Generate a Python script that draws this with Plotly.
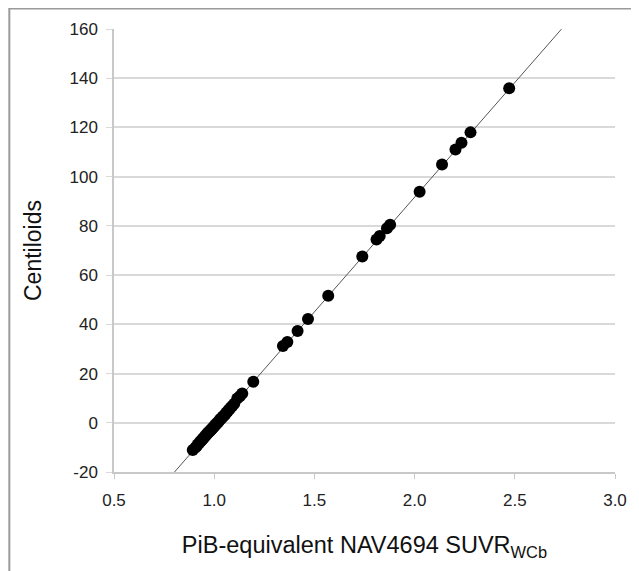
import plotly.graph_objects as go

# Data
suvr = [0.893, 0.905, 0.912, 0.918, 0.925, 0.930, 0.935, 0.940, 0.945, 0.950,
        0.955, 0.960, 0.964, 0.968, 0.972, 0.976, 0.980, 0.984, 0.988, 0.992,
        0.996, 1.000, 1.004, 1.008, 1.012, 1.016, 1.020, 1.025, 1.030, 1.035,
        1.040, 1.045, 1.050, 1.056, 1.062, 1.068, 1.075, 1.082, 1.090, 1.100,
        1.115, 1.128, 1.140, 1.195, 1.343, 1.365, 1.416, 1.468, 1.569, 1.739,
        1.810, 1.826, 1.862, 1.878, 2.025, 2.137, 2.204, 2.234, 2.279, 2.472]
centiloids = [-11.1, -10.2, -9.5, -8.8, -8.2, -7.7, -7.3, -6.9, -6.4, -5.9,
              -5.4, -5.0, -4.6, -4.2, -3.9, -3.5, -3.2, -2.8, -2.5, -2.1,
              -1.8, -1.4, -1.0, -0.7, -0.4, 0.0, 0.3, 0.8, 1.3, 1.7,
              2.2, 2.6, 3.1, 3.6, 4.2, 4.8, 5.4, 6.1, 6.8, 7.7,
              9.9, 10.8, 11.9, 16.7, 31.2, 32.8, 37.3, 42.2, 51.6, 67.6,
              74.5, 75.9, 79.0, 80.5, 93.9, 104.9, 111.0, 113.8, 118.0, 135.9]

fit_slope = 93.2
fit_intercept = -94.75
fit_x = [0.802, 2.733]
fit_y = [fit_slope * v + fit_intercept for v in fit_x]

x_ticks = [0.5, 1.0, 1.5, 2.0, 2.5, 3.0]
x_tick_labels = ["0.5", "1.0", "1.5", "2.0", "2.5", "3.0"]
y_ticks = [-20, 0, 20, 40, 60, 80, 100, 120, 140, 160]
y_tick_labels = ["-20", "0", "20", "40", "60", "80", "100", "120", "140", "160"]

FONT = "Liberation Sans, Arial, Helvetica, sans-serif"

fig = go.Figure()
fig.add_trace(go.Scatter(x=fit_x, y=fit_y, mode="lines",
                         line=dict(color="#555555", width=1), showlegend=False,
                         hoverinfo="skip"))
fig.add_trace(go.Scatter(x=suvr, y=centiloids, mode="markers",
                         marker=dict(color="black", size=12, line=dict(width=0)),
                         showlegend=False))

# page has an 8px body margin; figure coordinates below are page - 8
W, H = 631, 563
L, R, T, B = 106, 20, 21, 99
pw, ph = W - L - R, H - T - B

def px_to_paper_x(px):
    return (px - L) / pw

def py_to_paper_y(py):
    return (H - B - py) / ph

fig.update_layout(
    width=W, height=H,
    margin=dict(l=L, r=R, t=T, b=B, pad=0),
    paper_bgcolor="white", plot_bgcolor="white",
    font=dict(family=FONT, size=17, color="#222222"),
    xaxis=dict(range=[0.5, 3.0], tickvals=x_ticks, ticktext=x_tick_labels,
               showgrid=False, zeroline=False, showline=True,
               linecolor="#c8c8c8", linewidth=1.5, ticks="outside", ticklen=5,
               tickcolor="#c8c8c8", tickfont=dict(size=17, color="#222222"),
               ticklabelstandoff=7,
               title=dict(text="PiB-equivalent NAV4694 SUVR<sub>WCb</sub>",
                          font=dict(size=23.5, color="#111111"), standoff=27)),
    yaxis=dict(range=[-20, 160], tickvals=y_ticks, ticktext=y_tick_labels,
               showgrid=True, gridcolor="#d9d9d9", gridwidth=1.5,
               zeroline=False, showline=True, linecolor="#c8c8c8", linewidth=1.5,
               ticks="outside", ticklen=6, tickcolor="#d9d9d9",
               tickfont=dict(size=17, color="#222222"), ticklabelstandoff=5,
               title=dict(text="Centiloids", font=dict(size=23, color="#111111"),
                          standoff=21)),
    shapes=[
        dict(type="line", xref="paper", yref="paper",
             x0=px_to_paper_x(0), x1=px_to_paper_x(W + 5),
             y0=py_to_paper_y(0.5), y1=py_to_paper_y(0.5),
             line=dict(color="#9a9a9a", width=2)),
        dict(type="line", xref="paper", yref="paper",
             x0=px_to_paper_x(0.5), x1=px_to_paper_x(0.5),
             y0=py_to_paper_y(0), y1=py_to_paper_y(H + 5),
             line=dict(color="#9a9a9a", width=2)),
    ],
)

fig.write_html("out.html")
